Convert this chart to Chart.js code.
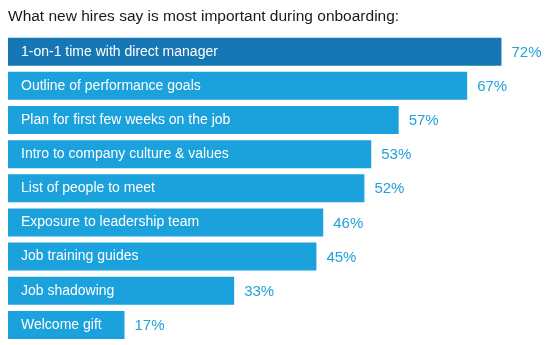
<!DOCTYPE html>
<html>
<head>
<meta charset="utf-8">
<script src="https://cdn.jsdelivr.net/npm/chart.js@4/dist/chart.umd.min.js"></script>
<style>
  html, body { margin: 0; padding: 0; background: #fff; }
  #wrap { width: 550px; height: 345px; }
</style>
</head>
<body>
<div id="wrap"><canvas id="chart-onboarding"></canvas></div>
<script>
const categories = [
    '1-on-1 time with direct manager',
    'Outline of performance goals',
    'Plan for first few weeks on the job',
    'Intro to company culture & values',
    'List of people to meet',
    'Exposure to leadership team',
    'Job training guides',
    'Job shadowing',
    'Welcome gift'
];
const percents = [72, 67, 57, 53, 52, 46, 45, 33, 17];
const barColors = ['#1677b4', '#1ba1db', '#1ba1db', '#1ba1db', '#1ba1db', '#1ba1db', '#1ba1db', '#1ba1db', '#1ba1db'];

const FONT = '"Liberation Sans", Arial, Helvetica, sans-serif';

// writes category name inside each bar and the percent after it
const barLabels = {
    id: 'barLabels',
    afterDatasetsDraw(chart) {
        const ctx = chart.ctx;
        const meta = chart.getDatasetMeta(0);
        ctx.save();
        ctx.textBaseline = 'middle';
        meta.data.forEach((bar, i) => {
            ctx.font = '14px ' + FONT;
            ctx.fillStyle = '#ffffff';
            ctx.textAlign = 'left';
            ctx.fillText(categories[i], bar.base + 13, bar.y);
            ctx.font = '15px ' + FONT;
            ctx.fillStyle = '#22a1db';
            ctx.fillText(percents[i] + '%', bar.x + 10, bar.y + 1);
        });
        ctx.restore();
    }
};

(() => {
    let ctx = document.getElementById('chart-onboarding').getContext('2d');

    new Chart(ctx, {
        type: 'bar',
        data: {
            labels: categories,
            datasets: [{
                data: percents,
                backgroundColor: barColors,
                borderWidth: 0,
                barPercentage: 0.82,
                categoryPercentage: 1
            }]
        },
        options: {
            indexAxis: 'y',
            responsive: true,
            maintainAspectRatio: false,
            animation: false,
            layout: { padding: { left: 8, right: 4, top: 7, bottom: 3 } },
            scales: {
                x: { display: false, min: 0, max: 78.5 },
                y: { display: false }
            },
            plugins: {
                legend: { display: false },
                tooltip: { enabled: false },
                title: {
                    display: true,
                    text: 'What new hires say is most important during onboarding:',
                    align: 'start',
                    color: '#1a1a1a',
                    font: { family: FONT, size: 15.5, weight: 'normal' },
                    padding: { top: 0, bottom: 9 }
                }
            }
        },
        plugins: [barLabels]
    });
})();
</script>
</body>
</html>
